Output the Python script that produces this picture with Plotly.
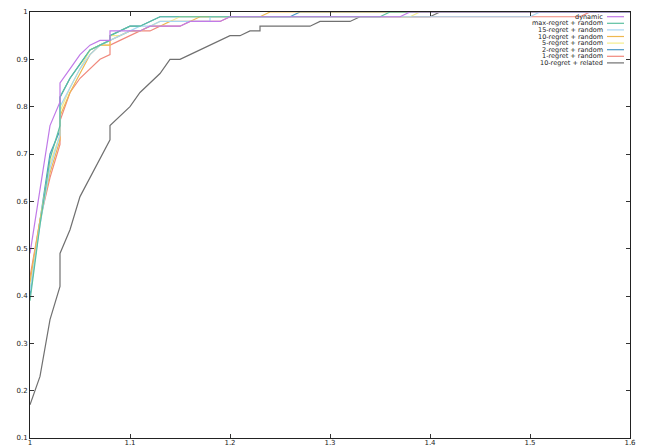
import plotly.graph_objects as go

series_names = ["dynamic", "max-regret + random", "15-regret + random", "10-regret + random",
                "5-regret + random", "2-regret + random", "1-regret + random", "10-regret + related"]
series_colors = ["#c07ae8", "#5cc0a0", "#a6d6f2", "#eeb850", "#f4ec8c", "#4a98c4", "#f0887c", "#707070"]

dyn_x = [1.00, 1.01, 1.02, 1.03, 1.03, 1.04, 1.05, 1.06, 1.07, 1.08, 1.08, 1.11, 1.12, 1.15, 1.16, 1.19, 1.20, 1.37, 1.38, 1.60]
dyn_y = [0.49, 0.63, 0.76, 0.81, 0.85, 0.88, 0.91, 0.93, 0.94, 0.94, 0.96, 0.96, 0.97, 0.97, 0.98, 0.98, 0.99, 0.99, 1.00, 1.00]

max_x = [1.00, 1.01, 1.02, 1.03, 1.03, 1.04, 1.05, 1.06, 1.07, 1.08, 1.08, 1.09, 1.10, 1.11, 1.12, 1.13, 1.35, 1.36, 1.60]
max_y = [0.39, 0.55, 0.69, 0.76, 0.82, 0.86, 0.89, 0.92, 0.93, 0.94, 0.95, 0.96, 0.97, 0.97, 0.98, 0.99, 0.99, 1.00, 1.00]

r15_x = [1.00, 1.01, 1.02, 1.03, 1.03, 1.04, 1.05, 1.06, 1.07, 1.08, 1.09, 1.10, 1.11, 1.12, 1.13, 1.18, 1.18, 1.50, 1.51, 1.60]
r15_y = [0.41, 0.55, 0.67, 0.74, 0.80, 0.84, 0.88, 0.91, 0.93, 0.94, 0.95, 0.96, 0.97, 0.97, 0.98, 0.98, 0.99, 0.99, 1.00, 1.00]

r10_x = [1.00, 1.01, 1.02, 1.03, 1.03, 1.04, 1.05, 1.06, 1.07, 1.08, 1.08, 1.09, 1.10, 1.11, 1.12, 1.13, 1.14, 1.16, 1.17, 1.23, 1.24, 1.60]
r10_y = [0.43, 0.56, 0.66, 0.73, 0.78, 0.83, 0.87, 0.91, 0.93, 0.93, 0.94, 0.95, 0.96, 0.96, 0.97, 0.97, 0.98, 0.98, 0.99, 0.99, 1.00, 1.00]

r5_x = [1.00, 1.01, 1.02, 1.03, 1.03, 1.04, 1.05, 1.06, 1.07, 1.08, 1.08, 1.09, 1.10, 1.11, 1.12, 1.13, 1.14, 1.15, 1.38, 1.39, 1.60]
r5_y = [0.42, 0.56, 0.68, 0.74, 0.79, 0.84, 0.88, 0.92, 0.93, 0.93, 0.95, 0.95, 0.96, 0.96, 0.97, 0.98, 0.98, 0.99, 0.99, 1.00, 1.00]

r2_x = [1.00, 1.01, 1.02, 1.03, 1.03, 1.04, 1.05, 1.06, 1.07, 1.08, 1.08, 1.09, 1.10, 1.11, 1.12, 1.13, 1.26, 1.27, 1.60]
r2_y = [0.40, 0.56, 0.70, 0.75, 0.82, 0.86, 0.89, 0.92, 0.93, 0.94, 0.95, 0.96, 0.97, 0.97, 0.98, 0.99, 0.99, 1.00, 1.00]

r1_x = [1.00, 1.01, 1.02, 1.03, 1.03, 1.04, 1.05, 1.06, 1.07, 1.08, 1.08, 1.09, 1.10, 1.11, 1.12, 1.13, 1.15, 1.16, 1.19, 1.20, 1.55, 1.56, 1.60]
r1_y = [0.44, 0.56, 0.65, 0.72, 0.77, 0.83, 0.86, 0.88, 0.90, 0.91, 0.93, 0.94, 0.95, 0.96, 0.96, 0.97, 0.97, 0.98, 0.98, 0.99, 0.99, 1.00, 1.00]

rel_x = [1.00, 1.01, 1.02, 1.03, 1.03, 1.04, 1.05, 1.06, 1.07, 1.08, 1.08, 1.09, 1.10, 1.11, 1.12, 1.13, 1.14, 1.15,
         1.16, 1.17, 1.18, 1.19, 1.20, 1.21, 1.22, 1.23, 1.23, 1.28, 1.29, 1.32, 1.33, 1.40, 1.41, 1.60]
rel_y = [0.17, 0.23, 0.35, 0.42, 0.49, 0.54, 0.61, 0.65, 0.69, 0.73, 0.76, 0.78, 0.80, 0.83, 0.85, 0.87, 0.90, 0.90,
         0.91, 0.92, 0.93, 0.94, 0.95, 0.95, 0.96, 0.96, 0.97, 0.97, 0.98, 0.98, 0.99, 0.99, 1.00, 1.00]

x_ticks = [1.0, 1.1, 1.2, 1.3, 1.4, 1.5, 1.6]
x_tick_text = ["1", "1.1", "1.2", "1.3", "1.4", "1.5", "1.6"]
y_ticks = [0.1, 0.2, 0.3, 0.4, 0.5, 0.6, 0.7, 0.8, 0.9, 1.0]
y_tick_text = ["0.1", "0.2", "0.3", "0.4", "0.5", "0.6", "0.7", "0.8", "0.9", "1"]

all_x = [dyn_x, max_x, r15_x, r10_x, r5_x, r2_x, r1_x, rel_x]
all_y = [dyn_y, max_y, r15_y, r10_y, r5_y, r2_y, r1_y, rel_y]

# the page body adds an 8px offset; figure coordinates below are relative to the figure
OFF = 8
W, H = 638, 447
L, T = 30 - OFF, 12 - OFF
R = W - (630 - OFF)
B = H - (438 - OFF)
plot_h = H - T - B
plot_w = W - L - R

fig = go.Figure()
# draw in reverse so dynamic is on top
for i in reversed(range(len(series_names))):
    fig.add_trace(go.Scatter(x=all_x[i], y=all_y[i], mode="lines", name=series_names[i],
                             line=dict(color=series_colors[i], width=1.2), showlegend=False,
                             cliponaxis=True))

# legend (text right-aligned, sample line to the right) as in gnuplot
shapes = []
annotations = []
row0 = 16.7 - OFF
dy = 6.6
for i, name in enumerate(series_names):
    ypx = row0 + i * dy
    yp = (H - B - ypx) / plot_h
    annotations.append(dict(x=(604 - OFF - L) / plot_w, y=yp, xref="paper", yref="paper", text=name,
                            showarrow=False, xanchor="right", yanchor="middle", borderpad=0,
                            font=dict(family="DejaVu Sans", size=6.5, color="#222222")))
    shapes.append(dict(type="line", xref="paper", yref="paper",
                       x0=(607 - OFF - L) / plot_w, x1=(624 - OFF - L) / plot_w, y0=yp, y1=yp,
                       line=dict(color=series_colors[i], width=1.2)))

fig.update_layout(
    width=W, height=H,
    margin=dict(l=L, r=R, t=T, b=B, autoexpand=False),
    paper_bgcolor="white", plot_bgcolor="white",
    font=dict(family="DejaVu Sans", size=7, color="#222222"),
    shapes=shapes, annotations=annotations,
    xaxis=dict(range=[1.0, 1.6], tickvals=x_ticks, ticktext=x_tick_text, ticks="inside", ticklen=4,
               tickcolor="#333333", showgrid=False, zeroline=False, showline=True, linecolor="#222222",
               linewidth=1, mirror="ticks", tickfont=dict(size=7), automargin=False,
               ticklabelstandoff=-2),
    yaxis=dict(range=[0.1, 1.0], tickvals=y_ticks, ticktext=y_tick_text, ticks="inside", ticklen=4,
               tickcolor="#333333", showgrid=False, zeroline=False, showline=True, linecolor="#222222",
               linewidth=1, mirror="ticks", tickfont=dict(size=7), automargin=False),
)

fig.write_html("out.html")
